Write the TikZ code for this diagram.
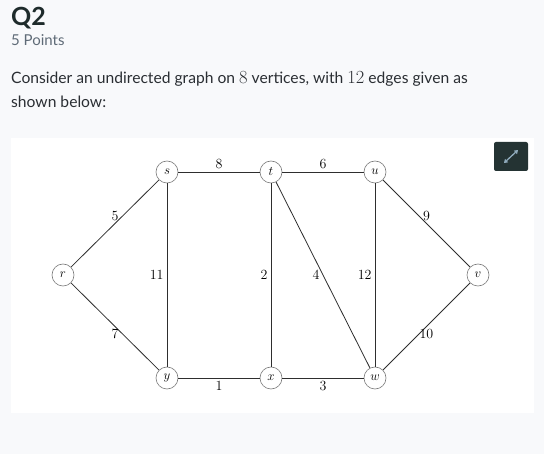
\RequirePackage{fix-cm}
\documentclass[tikz,border=0pt]{standalone}
\usepackage[no-math]{fontspec}
\setmainfont{Lato}
\usetikzlibrary{arrows.meta}
\definecolor{pagebg}{HTML}{F8F9FB}
\definecolor{titlec}{HTML}{1E2B2B}
\definecolor{subc}{HTML}{5F6B77}
\definecolor{bodyc}{HTML}{2A2E33}
\definecolor{edgec}{HTML}{2E2E2E}
\definecolor{nodec}{HTML}{7A7A7A}
\definecolor{btnc}{HTML}{243333}
\definecolor{iconc}{HTML}{8FAABB}
\newcommand{\bigmathnum}[1]{{\fontsize{18.5}{18}\selectfont$#1$}}
\tikzset{
  vtx/.style={circle, draw=nodec, line width=0.6pt, fill=white, minimum size=22pt, inner sep=0pt, font=\fontsize{13}{15}\selectfont},
  wedge/.style={draw=edgec, line width=0.8pt},
  wlab/.style={font=\fontsize{14}{16}\selectfont, inner sep=3pt},
}
\begin{document}
\begin{tikzpicture}[x=1pt,y=-1pt]
\useasboundingbox (0,0) rectangle (544,454);
\fill[pagebg] (0,0) rectangle (544,454);
\fill[white] (11,138) rectangle (534,413);
% header texts
\node[anchor=base west, inner sep=0pt, text=titlec, font=\fontsize{25}{28}\selectfont\bfseries] (q) at (11,26) {Q2};
\node[anchor=base west, inner sep=0pt, text=subc, font=\fontsize{15}{18}\selectfont] (pts) at (11,46) {5 Points};
\node[anchor=base west, inner sep=0pt, text=bodyc, font=\fontsize{15.65}{18}\selectfont] (l1) at (11,84) {Consider an undirected graph on \bigmathnum{8} vertices, with \bigmathnum{12} edges given as};
\node[anchor=base west, inner sep=0pt, text=bodyc, font=\fontsize{15.65}{18}\selectfont] (l2) at (11,107.3) {shown below:};
% expand button
\fill[btnc, rounded corners=2pt] (494,142) rectangle (528,171);
\coordinate (ia) at (504,163);
\coordinate (ib) at (518,150);
\draw[iconc, line width=1.3pt, {Triangle[length=3.5pt,width=4.5pt]}-{Triangle[length=3.5pt,width=4.5pt]}] (ia) -- (ib);
% vertices
\node[vtx] (r) at (63,275) {$r$};
\node[vtx] (s) at (167,172) {$s$};
\node[vtx] (t) at (271,172) {$t$};
\node[vtx] (u) at (375,172) {$u$};
\node[vtx] (v) at (478,275) {$v$};
\node[vtx] (y) at (167,378) {$y$};
\node[vtx] (x) at (271,378) {$x$};
\node[vtx] (w) at (375,378) {$w$};
% edges
\draw[wedge] (r) -- node[wlab, above, pos=0.5] {$5$} (s);
\draw[wedge] (r) -- node[wlab, below, pos=0.5] {$7$} (y);
\draw[wedge] (s) -- node[wlab, above] {$8$} (t);
\draw[wedge] (s) -- node[wlab, left] {$11$} (y);
\draw[wedge] (t) -- node[wlab, above] {$6$} (u);
\draw[wedge] (t) -- node[wlab, left] {$2$} (x);
\draw[wedge] (t) -- node[wlab, left] {$4$} (w);
\draw[wedge] (u) -- node[wlab, left] {$12$} (w);
\draw[wedge] (u) -- node[wlab, above] {$9$} (v);
\draw[wedge] (v) -- node[wlab, below, pos=0.5] {$10$} (w);
\draw[wedge] (y) -- node[wlab, below] {$1$} (x);
\draw[wedge] (x) -- node[wlab, below] {$3$} (w);
\end{tikzpicture}
\end{document}
